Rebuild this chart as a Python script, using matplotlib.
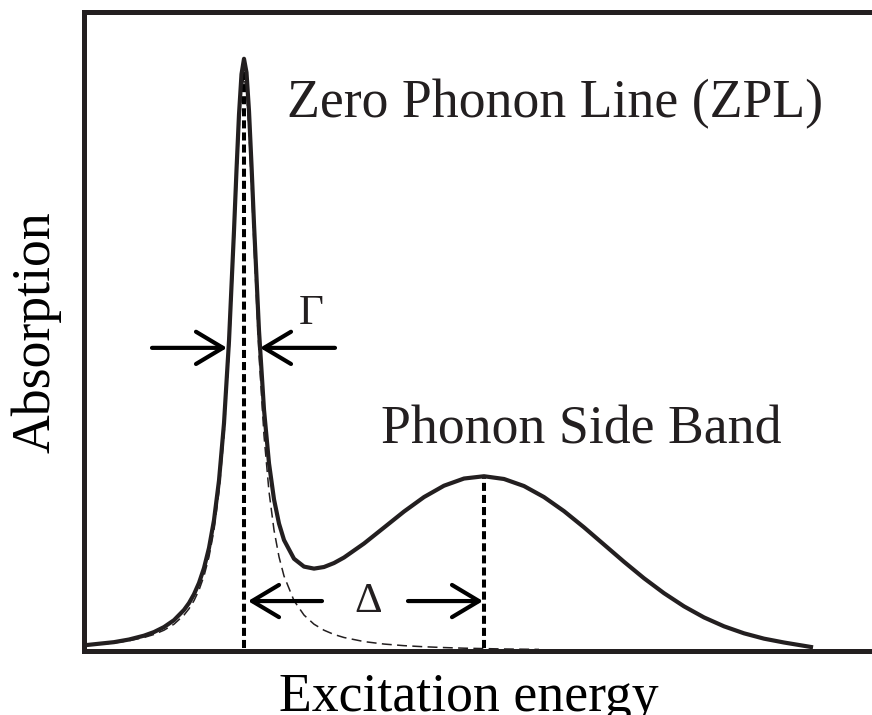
"""Schematic absorption spectrum: sharp zero-phonon line plus a broad phonon side band."""
import matplotlib
matplotlib.use("Agg")
import matplotlib.pyplot as plt

INK = "#231f20"

plt.rcParams.update({
    "font.family": "serif",
    "font.serif": ["Liberation Serif", "DejaVu Serif"],
    "text.color": INK,
})

# Excitation energy grid (arb. units) and total absorption (ZPL + side band).
energy = [0.0, 0.3, 0.45, 0.6, 0.7, 0.8, 0.9, 1.0, 1.05, 1.1, 1.15, 1.2, 1.25,
          1.3, 1.35, 1.4, 1.45, 1.5, 1.525, 1.55, 1.575, 1.6, 1.625, 1.65,
          1.675, 1.7, 1.75, 1.8, 1.85, 1.9, 1.95, 2.0, 2.1, 2.2, 2.3, 2.4,
          2.5, 2.6, 2.8, 3.0, 3.2, 3.4, 3.6, 3.8, 4.0, 4.2, 4.4, 4.6, 4.8,
          5.0, 5.2, 5.4, 5.6, 5.8, 6.0, 6.2, 6.4, 6.6, 6.8, 7.0, 7.27]
absorption = [0.0099, 0.0154, 0.0200, 0.0267, 0.0330, 0.0417, 0.0537, 0.0715,
              0.0835, 0.0989, 0.1186, 0.1446, 0.1795, 0.2280, 0.2970, 0.3966,
              0.5400, 0.7321, 0.8376, 0.9344, 1.0047, 1.0315, 1.0077, 0.9404,
              0.8465, 0.7440, 0.5578, 0.4204, 0.3269, 0.2641, 0.2220, 0.1933,
              0.1607, 0.1470, 0.1435, 0.1463, 0.1532, 0.1628, 0.1872, 0.2150,
              0.2429, 0.2681, 0.2879, 0.3004, 0.3044, 0.2996, 0.2873, 0.2681,
              0.2436, 0.2154, 0.1854, 0.1554, 0.1267, 0.1007, 0.0778, 0.0585,
              0.0430, 0.0308, 0.0215, 0.0148, 0.0070]

# Zero-phonon line on its own (Lorentzian), dashed.
zpl_energy = [0.0, 0.3, 0.45, 0.6, 0.7, 0.8, 0.9, 1.0, 1.05, 1.1, 1.15, 1.2,
              1.25, 1.3, 1.35, 1.4, 1.45, 1.5, 1.525, 1.55, 1.575, 1.6, 1.625,
              1.65, 1.675, 1.7, 1.75, 1.8, 1.85, 1.9, 1.95, 2.0, 2.1, 2.2,
              2.3, 2.4, 2.5, 2.6, 2.8, 3.0, 3.2, 3.4, 3.6, 3.8, 4.0, 4.2,
              4.4, 4.55]
zpl_absorption = [0.0093, 0.0140, 0.0178, 0.0235, 0.0288, 0.0362, 0.0467,
                  0.0626, 0.0736, 0.0877, 0.1061, 0.1306, 0.1640, 0.2107,
                  0.2777, 0.3753, 0.5164, 0.7061, 0.8103, 0.9057, 0.9747, 1.0,
                  0.9747, 0.9057, 0.8103, 0.7061, 0.5164, 0.3753, 0.2777,
                  0.2107, 0.1640, 0.1306, 0.0877, 0.0626, 0.0467, 0.0362,
                  0.0288, 0.0235, 0.0164, 0.0121, 0.0093, 0.0074, 0.0060,
                  0.0049, 0.0042, 0.0035, 0.0031, 0.0028]

ZPL_CENTER = 1.6
ZPL_PEAK = 1.0315
PSB_CENTER = 4.0
PSB_PEAK = 0.3044
HALF_MAX = 0.528      # level of the linewidth arrows
GAMMA_LEFT = (0.68, 1.43)
GAMMA_RIGHT = (2.51, 1.76)
SHIFT_LEVEL = 0.087   # level of the ZPL -> side band arrows

LABEL_SIZE = 38.7

fig = plt.figure(figsize=(8.72, 7.15), dpi=100)
ax = fig.add_axes([84 / 872, 64 / 715, 800 / 872, 639 / 715])
ax.set_xlim(0, 8.0)
ax.set_ylim(0, 1.113)

ax.plot(energy, absorption, color=INK, lw=3.0, zorder=3)
ax.plot(zpl_energy, zpl_absorption, color=INK, lw=1.1,
        linestyle=(0, (6.5, 3.5)), zorder=2)

# dotted markers at the ZPL and side band maxima
dot = dict(color="black", lw=2.9, linestyle=(0, (2.0, 1.0)), zorder=2)
ax.plot([ZPL_CENTER, ZPL_CENTER], [0.005, ZPL_PEAK - 0.01], **dot)
ax.plot([PSB_CENTER, PSB_CENTER], [0.005, PSB_PEAK], **dot)

arrow = dict(arrowstyle="->,head_length=0.97,head_width=0.58",
             color="black", lw=3.0, shrinkA=0, shrinkB=0,
             mutation_scale=20)

# linewidth (Gamma) arrows
ax.annotate("", xy=(GAMMA_LEFT[1], HALF_MAX), xytext=(GAMMA_LEFT[0], HALF_MAX),
            arrowprops=arrow)
ax.annotate("", xy=(GAMMA_RIGHT[1], HALF_MAX), xytext=(GAMMA_RIGHT[0], HALF_MAX),
            arrowprops=arrow)
ax.text(2.27, 0.570, "Γ", fontsize=31, ha="center", va="baseline")

# ZPL -> side band shift (Delta) arrows
ax.annotate("", xy=(ZPL_CENTER + 0.04, SHIFT_LEVEL), xytext=(2.38, SHIFT_LEVEL),
            arrowprops=arrow)
ax.annotate("", xy=(PSB_CENTER - 0.01, SHIFT_LEVEL), xytext=(3.24, SHIFT_LEVEL),
            arrowprops=arrow)
ax.text(2.845, 0.068, "Δ", fontsize=31, ha="center", va="baseline")

ax.text(2.03, 0.930, "Zero Phonon Line (ZPL)", fontsize=LABEL_SIZE,
        ha="left", va="baseline")
ax.text(2.97, 0.362, "Phonon Side Band", fontsize=LABEL_SIZE,
        ha="left", va="baseline")

ax.set_xticks([])
ax.set_yticks([])
for side in ("left", "top", "bottom"):
    ax.spines[side].set_linewidth(3.6)
    ax.spines[side].set_color(INK)
ax.spines["right"].set_visible(False)

ax.set_xlabel("Excitation energy", fontsize=LABEL_SIZE, ha="left", va="baseline")
ax.xaxis.set_label_coords((279 - 84) / 800, (651 - 711) / 639)
ax.set_ylabel("Absorption", fontsize=LABEL_SIZE, ha="center", va="baseline",
              rotation_mode="anchor")
ax.yaxis.set_label_coords((49 - 84) / 800, (651 - 332) / 639)

fig.savefig("out.png", dpi=100, facecolor="white")
